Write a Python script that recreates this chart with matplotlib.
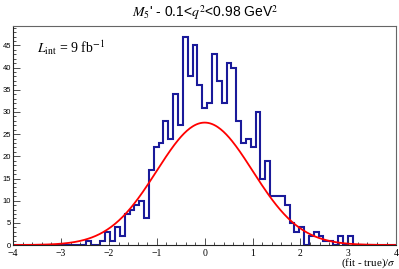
import matplotlib.pyplot as plt
import numpy as np
from matplotlib.ticker import MultipleLocator

plt.rcParams["mathtext.fontset"] = "stix"

# histogram: 79 bins over [-4, 4]
x_min, x_max, n_bins = -4.0, 4.0, 79
counts = [0] * n_bins
filled = {
    15: 1, 18: 1, 19: 3, 20: 1, 21: 4, 22: 2,
    23: 7, 24: 8, 25: 9, 26: 10, 27: 6,
    28: 17, 29: 22, 30: 23, 31: 28, 32: 24,
    33: 34, 34: 27, 35: 47, 36: 38, 37: 45,
    38: 36, 39: 31, 40: 32, 41: 43, 42: 37,
    43: 32, 44: 41, 45: 40, 46: 28, 47: 23,
    48: 24, 49: 22, 50: 30, 51: 15, 52: 19,
    53: 11, 54: 11, 55: 11, 56: 9, 57: 5, 58: 3, 59: 4,
    61: 2, 62: 3, 63: 2, 64: 1, 65: 1, 67: 2, 69: 2,
}
for k, v in filled.items():
    counts[k] = v

# expected pull distribution (gaussian)
g_amp, g_mean, g_sigma = 27.6, 0.0, 1.0

edges = np.linspace(x_min, x_max, n_bins + 1)
xs = np.linspace(x_min, x_max, 400)
ys = g_amp * np.exp(-0.5 * ((xs - g_mean) / g_sigma) ** 2)

fig = plt.figure(figsize=(3.99, 2.69), dpi=100)
ax = fig.add_axes([0.033, 0.089, 0.96, 0.814])

ax.stairs(counts, edges, color="#1a1a9a", lw=1.5)
ax.plot(xs, ys, color="red", lw=1.3)

ax.set_xlim(x_min, x_max)
ax.set_ylim(0, 1.05 * max(counts))

ax.xaxis.set_major_locator(MultipleLocator(1))
ax.xaxis.set_minor_locator(MultipleLocator(0.2))
ax.yaxis.set_major_locator(MultipleLocator(5))
ax.yaxis.set_minor_locator(MultipleLocator(1))
ax.tick_params(which="both", direction="in", top=False, right=False, width=0.6, color="#333333")
ax.tick_params(which="major", length=5)
ax.tick_params(which="minor", length=2.5)
ax.tick_params(axis="x", pad=2.5, labelsize=7)
ax.tick_params(axis="y", pad=1.5, labelsize=5.5)
for lab in ax.get_xticklabels():
    lab.set_family("Liberation Serif")
for lab in ax.get_yticklabels():
    lab.set_family("Liberation Sans")

for side in ["left", "bottom"]:
    ax.spines[side].set_color("#222222")
    ax.spines[side].set_linewidth(0.8)
for side in ["top", "right"]:
    ax.spines[side].set_color("#666666")
    ax.spines[side].set_linewidth(0.8)

fig.text(0.515, 0.952, r"$M_5$' - 0.1<$q^2$<0.98 GeV$^2$", ha="center", va="center",
         fontsize=10, family="Liberation Sans")
ax.text(-3.5, 44.5, r"$L_{\rm int}$ = 9 fb$^{-1}$", fontsize=10, family="Liberation Serif",
        ha="left", va="center")
fig.text(0.993, 0.02, r"(fit - true)/$\sigma$", ha="right", va="center",
         fontsize=8, family="Liberation Serif")

fig.savefig("out.png", dpi=100)
